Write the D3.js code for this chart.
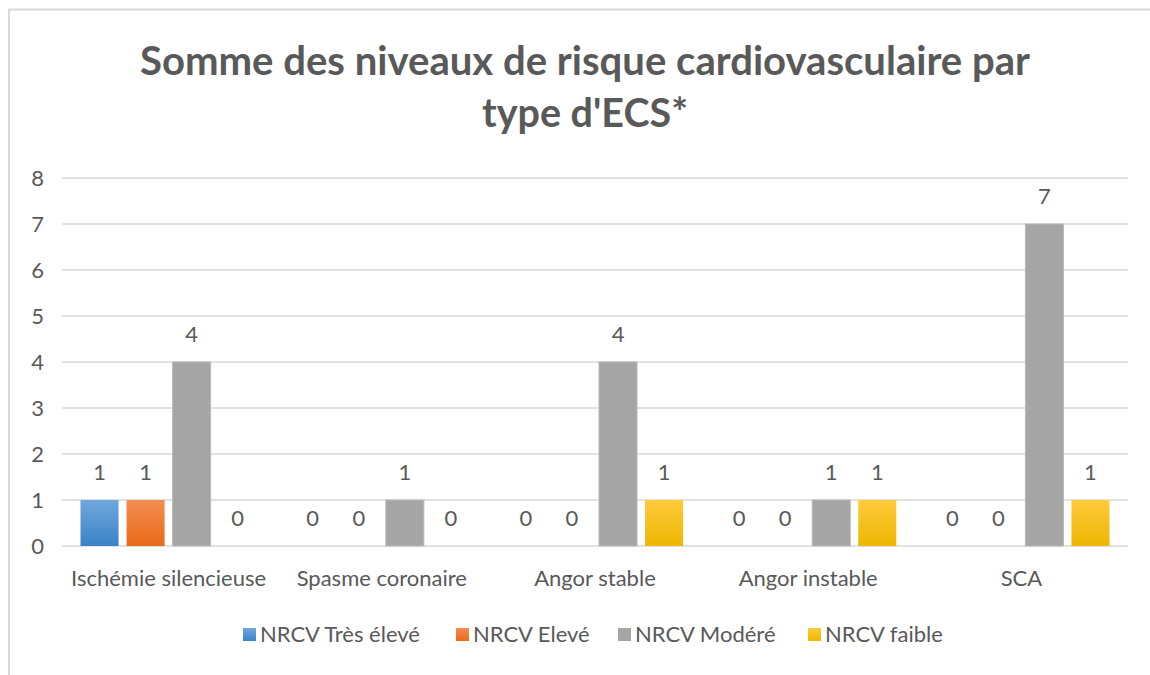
<!DOCTYPE html>
<html>
<head>
<meta charset="utf-8">
<script src="https://cdn.jsdelivr.net/npm/d3@7"></script>
<style>
  body { margin: 0; background: #fff; }
  svg { display: block; }
  text { font-family: Lato, "Open Sans", sans-serif; fill: #595959; }
</style>
</head>
<body>
<svg id="chart" width="1150" height="675"></svg>
<script>
'use strict';

// data
var categories = ['Ischémie silencieuse', 'Spasme coronaire', 'Angor stable', 'Angor instable', 'SCA'];
var seriesNames = ['NRCV Très élevé', 'NRCV Elevé', 'NRCV Modéré', 'NRCV faible'];
var tresEleve = [1, 0, 0, 0, 0];
var eleve = [1, 0, 0, 0, 0];
var modere = [4, 1, 4, 1, 7];
var faible = [0, 0, 1, 1, 1];
var yTicks = [0, 1, 2, 3, 4, 5, 6, 7, 8];
var titleLines = ['Somme des niveaux de risque cardiovasculaire par', "type d'ECS*"];

var seriesValues = [tresEleve, eleve, modere, faible];

// styles (top / bottom of the gradient)
var GRAD = [
    ['#70a8de', '#3a82c8'],
    ['#f48d52', '#e86a18'],
    ['#a5a5a5', '#a5a5a5'],
    ['#ffca3c', '#edb600']
];
var STROKES = ['none', 'none', '#b9b9b9', 'none'];
var GRID_COLOR = '#d9d9d9';
var FONT_SIZE = '22px';

var svg = d3.select('#chart');

// chart frame
svg.append('line').attr('x1', 9).attr('x2', 1150).attr('y1', 9.5).attr('y2', 9.5)
    .style('stroke', GRID_COLOR).style('stroke-width', 2);
svg.append('line').attr('x1', 9).attr('x2', 9).attr('y1', 9).attr('y2', 675)
    .style('stroke', GRID_COLOR).style('stroke-width', 2);

var defs = svg.append('defs');
GRAD.forEach(function(g, i) {
    var lg = defs.append('linearGradient')
        .attr('id', 'grad' + i)
        .attr('x1', 0).attr('y1', 0).attr('x2', 0).attr('y2', 1);
    lg.append('stop').attr('offset', '0%').attr('stop-color', g[0]);
    lg.append('stop').attr('offset', '100%').attr('stop-color', g[1]);
});

// title
var titleY = [75, 127];
var titleWidths = [890, 206];
titleLines.forEach(function(t, i) {
    svg.append('text')
        .attr('x', 585)
        .attr('y', titleY[i])
        .attr('text-anchor', 'middle')
        .attr('textLength', titleWidths[i])
        .attr('lengthAdjust', 'spacingAndGlyphs')
        .style('font-size', '40px')
        .style('font-weight', 'bold')
        .text(t);
});

// scales
var x0 = d3.scaleBand().domain(categories).range([62, 1128]).padding(0);
var x1 = d3.scaleBand().domain(d3.range(seriesNames.length))
    .range([18.5, x0.bandwidth() - 18.5])
    .paddingInner(0.174).paddingOuter(0);
var y = d3.scaleLinear().domain([0, 8]).range([546, 178]);

// gridlines
svg.append('g').selectAll('line')
    .data(yTicks)
    .enter().append('line')
    .attr('x1', 62).attr('x2', 1128)
    .attr('y1', function(d) { return y(d); })
    .attr('y2', function(d) { return y(d); })
    .style('stroke', GRID_COLOR)
    .style('stroke-width', 1.5);

// y axis
var yAxis = svg.append('g')
    .attr('transform', 'translate(46,0)')
    .call(d3.axisLeft(y).tickValues(yTicks).tickSize(0).tickPadding(2).tickFormat(d3.format('d')));
yAxis.select('.domain').remove();
yAxis.selectAll('text')
    .attr('fill', '#595959')
    .style('font-size', FONT_SIZE)
    .style('font-family', 'Lato, sans-serif');

// x axis labels
var xAxis = svg.append('g')
    .attr('transform', 'translate(0,' + y(0) + ')')
    .call(d3.axisBottom(x0).tickSize(0).tickPadding(24));
xAxis.select('.domain').remove();
xAxis.selectAll('text')
    .attr('fill', '#595959')
    .style('font-size', FONT_SIZE)
    .style('font-family', 'Lato, sans-serif');

// bars
var groups = svg.append('g').selectAll('g')
    .data(categories)
    .enter().append('g')
    .attr('transform', function(d) { return 'translate(' + x0(d) + ',0)'; });

groups.each(function(cat, ci) {
    var g = d3.select(this);
    seriesValues.forEach(function(vals, si) {
        var v = vals[ci];
        if (v > 0) {
            g.append('rect')
                .attr('x', x1(si))
                .attr('y', y(v))
                .attr('width', x1.bandwidth())
                .attr('height', y(0) - y(v))
                .style('fill', 'url(#grad' + si + ')')
                .style('stroke', STROKES[si])
                .style('stroke-width', 1);
        }
        g.append('text')
            .attr('x', x1(si) + x1.bandwidth() / 2)
            .attr('y', y(v) - 20)
            .attr('text-anchor', 'middle')
            .style('font-size', FONT_SIZE)
            .text(v);
    });
});

// legend
var legendX = [243, 456, 618, 808];
var legend = svg.append('g').selectAll('g')
    .data(seriesNames)
    .enter().append('g')
    .attr('transform', function(d, i) { return 'translate(' + legendX[i] + ',628)'; });
legend.append('rect')
    .attr('width', 13).attr('height', 13)
    .style('fill', function(d, i) { return 'url(#grad' + i + ')'; });
legend.append('text')
    .attr('x', 17).attr('y', 14)
    .style('font-size', FONT_SIZE)
    .text(function(d) { return d; });
</script>
</body>
</html>
